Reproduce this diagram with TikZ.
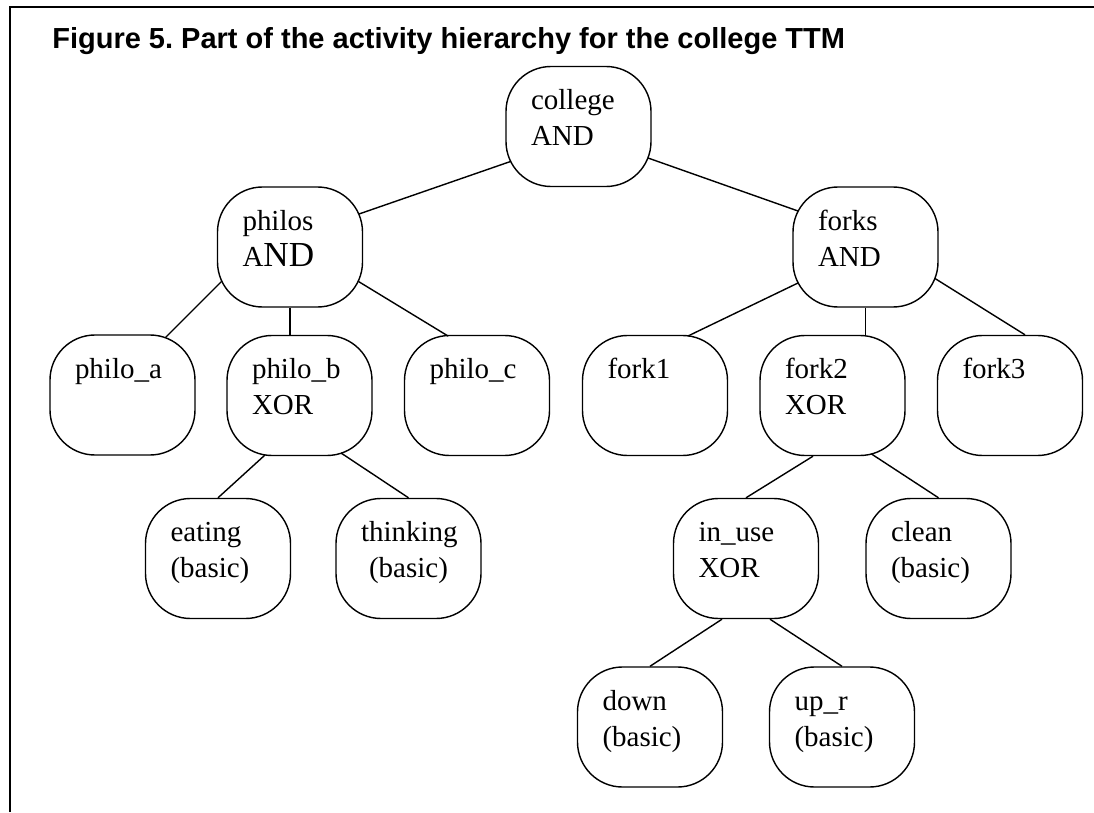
\documentclass[tikz,border=0pt]{standalone}
\usepackage{fontspec}
\setmainfont{Liberation Serif}
\setsansfont{Liberation Sans}
\usetikzlibrary{calc}
\newcommand{\acttext}[2]{\strut#1\\\strut#2\rule[-0.46cm]{0pt}{0.46cm}}
\tikzset{act/.style={draw, line width=0.8pt, rounded corners=0.9cm, minimum width=2.9cm, minimum height=2.4cm, text width=1.9cm, align=left, font=\fontsize{16.5}{20.5}\selectfont}}
\tikzset{link/.style={line width=0.8pt}}

\begin{document}
\begin{tikzpicture}
\useasboundingbox (0,0) rectangle (21.88,16.24);
\draw [line width=1.7pt] (0.2,0) -- (0.2,16.1) -- (21.88,16.1);
\node [anchor=base west, inner sep=0pt, font=\sffamily\bfseries\fontsize{16.5}{20}\selectfont] (title) at (1.04,15.26) {Figure 5.\ Part of the activity hierarchy for the college TTM};
% top levels
\node [act] (college) at (11.57,13.71) {\acttext{college}{AND}};
\node [act] (philos) at (5.80,11.30) {\acttext{philos}{A{\fontsize{20}{20.5}\selectfont ND}}};
\node [act] (forks) at (17.31,11.30) {\acttext{forks}{AND}};
\node [act] (philo_a) at (2.45,8.34) {\acttext{philo\_a}{}};
\node [act] (philo_b) at (5.99,8.33) {\acttext{philo\_b}{XOR}};
\node [act] (philo_c) at (9.54,8.33) {\acttext{philo\_c}{}};
\node [act] (fork1) at (13.10,8.33) {\acttext{fork1}{}};
\node [act] (fork2) at (16.65,8.33) {\acttext{fork2}{XOR}};
\node [act] (fork3) at (20.20,8.33) {\acttext{fork3}{}};
% basic ones
\node [act] (eating) at (4.36,5.07) {\acttext{eating}{(basic)}};
\node [act, align=center] (thinking) at (8.17,5.07) {\acttext{thinking}{(basic)}};
\node [act] (in_use) at (14.92,5.07) {\acttext{in\_use}{XOR}};
\node [act] (clean) at (18.77,5.07) {\acttext{clean}{(basic)}};
\node [act] (down) at (13.00,1.70) {\acttext{down}{(basic)}};
\node [act] (up_r) at (16.84,1.70) {\acttext{up\_r}{(basic)}};
% links
\draw [link] ($(college)+(-1.36,-0.70)$) -- ($(philos)+(1.38,0.66)$);
\draw [link] ($(college)+(1.39,-0.63)$) -- ($(forks)+(-1.35,0.72)$);
\draw [link] ($(philos)+(-1.37,-0.69)$) -- ($(philo_a)+(0.86,1.15)$);
\draw [link] (philos.south) -- (philos.south |- philo_b.north);
\draw [link] ($(philos)+(1.37,-0.69)$) -- ($(philo_c)+(-0.58,1.19)$);
\draw [link] ($(forks)+(-1.35,-0.72)$) -- ($(fork1)+(0.66,1.19)$);
\draw [link] (forks.south) -- (forks.south |- fork2.north);
\draw [link] ($(forks)+(1.39,-0.63)$) -- ($(fork3.north)+(0.3,0)$);
\draw [link] ($(philo_b)+(-0.69,-1.19)$) -- (eating.north);
\draw [link] ($(philo_b)+(0.83,-1.15)$) -- (thinking.north);
\draw [link] ($(fork2.south)+(-0.39,0)$) -- (in_use.north);
\draw [link] ($(fork2)+(0.78,-1.17)$) -- (clean.north);
\draw [link] ($(in_use.south)+(-0.48,0)$) -- (down.north);
\draw [link] ($(in_use.south)+(0.48,0)$) -- (up_r.north);
\end{tikzpicture}
\end{document}
